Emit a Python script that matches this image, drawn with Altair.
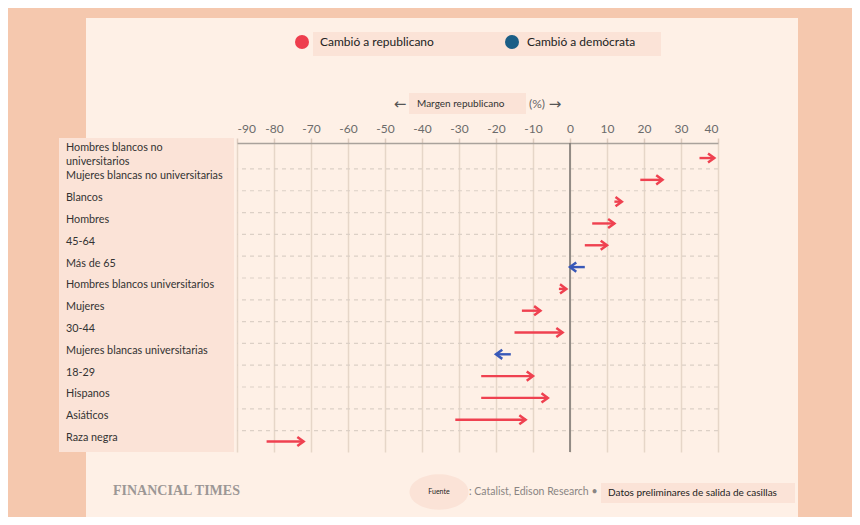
import altair as alt
import pandas as pd

# ---- data ----
groups = [
    "Hombres blancos no universitarios",
    "Mujeres blancas no universitarias",
    "Blancos",
    "Hombres",
    "45-64",
    "Más de 65",
    "Hombres blancos universitarios",
    "Mujeres",
    "30-44",
    "Mujeres blancas universitarias",
    "18-29",
    "Hispanos",
    "Asiáticos",
    "Raza negra",
]
margin_from = [35, 19, 12, 6, 4, 4, -3, -13, -15, -16, -24, -24, -31, -82]
margin_to = [39, 25, 14, 12, 10, 0, -1, -8, -2, -20, -10, -6, -12, -72]
x_ticks = [-90, -80, -70, -60, -50, -40, -30, -20, -10, 0, 10, 20, 30, 40]

wrap = {"Hombres blancos no universitarios": "Hombres blancos no\nuniversitarios"}

df = pd.DataFrame({
    "group": groups,
    "idx": list(range(len(groups))),
    "from": margin_from,
    "to": margin_to,
})
df["display"] = [wrap.get(g, g) for g in groups]
df["wrapped"] = [g in wrap for g in groups]
bounds = pd.DataFrame({"b": [i + 0.5 for i in range(len(groups) - 1)]})
one = pd.DataFrame({"a": [0]})

RED = "#EF4150"
BLUE = "#3858B8"
PEACH = "#F5C8AE"
CREAM = "#FEF0E6"
BOX = "#FBE3D7"
FONT = "Lato"

xscale = alt.Scale(domain=[-90, 40], nice=False, zero=False)
yscale = alt.Scale(domain=[-0.69, 13.48], reverse=True, nice=False, zero=False)
xaxis = alt.Axis(
    orient="top", values=x_ticks, grid=True, gridColor="#E6D6C8", gridWidth=1.5,
    domainColor="#A9A29C", domainWidth=1.5, tickColor="#DCCBBD", tickWidth=1.5,
    tickSize=5, labelPadding=3, labelFont=FONT, labelFontSize=12,
    labelColor="#6B6B6B", title=None, labelExpr="'' + datum.value",
)

base = alt.Chart(df)

def prect(x1, x2, y1, y2, color):
    return alt.Chart(one).mark_rect(color=color).encode(
        x=alt.value(x1), x2=alt.value(x2), y=alt.value(y1), y2=alt.value(y2)
    )

# peach borders around the cream panel
borders = [
    prect(-229, -151, -135, 374, PEACH),
    prect(561, 615, -135, 374, PEACH),
    prect(-229, 615, -135, -125, PEACH),
]

label_box = prect(-178, -3, -5, 309, BOX)

dashed = alt.Chart(bounds).mark_rule(strokeDash=[4, 4], color="#DCD0C6", strokeWidth=1.2).encode(
    y=alt.Y("b:Q", scale=yscale, axis=None)
)

zero = alt.Chart(one).mark_rule(color="#7D7874", strokeWidth=1.6).encode(
    x=alt.X(datum=0, scale=xscale, axis=xaxis)
)

color_enc = alt.Color(
    "dir:N", scale=alt.Scale(domain=["rep", "dem"], range=[RED, BLUE]), legend=None
)

shafts = base.transform_calculate(
    dir="datum.to > datum.from ? 'rep' : 'dem'"
).mark_rule(strokeWidth=2.4).encode(
    x=alt.X("from:Q", scale=xscale, axis=xaxis),
    x2="to:Q",
    y=alt.Y("idx:Q", scale=yscale, axis=None),
    color=color_enc,
)

heads = base.transform_calculate(
    dir="datum.to > datum.from ? 'rep' : 'dem'",
    ang="datum.to > datum.from ? 0 : 180",
).mark_point(
    shape="M-1.1,-0.8L0,0L-1.1,0.8", filled=False, strokeWidth=2.5, size=130, opacity=1
).encode(
    x=alt.X("to:Q", scale=xscale, axis=xaxis),
    y=alt.Y("idx:Q", scale=yscale, axis=None),
    color=color_enc,
    angle=alt.Angle("ang:Q", scale=None),
)

def label_layer(wrapped, dy):
    return base.transform_filter(
        alt.datum.wrapped == wrapped
    ).mark_text(
        align="left", baseline="middle", font=FONT, fontSize=10.8, color="#333333",
        lineBreak="\n", lineHeight=14, dy=dy,
    ).encode(
        x=alt.value(-171),
        y=alt.Y("idx:Q", scale=yscale, axis=None),
        text="display:N",
    )

labels_single = label_layer(False, -3.5)
labels_wrapped = label_layer(True, -10)

def txt(s, x, y, size, color="#222222", align="left", font=FONT, weight="normal"):
    return alt.Chart(one).mark_text(
        align=align, baseline="middle", font=font, fontSize=size, color=color,
        fontWeight=weight,
    ).encode(x=alt.value(x), y=alt.value(y), text=alt.value(s))

def dot(x, y, color, size=196, shape="circle"):
    return alt.Chart(one).mark_point(
        shape=shape, filled=True, color=color, size=size, opacity=1
    ).encode(x=alt.value(x), y=alt.value(y))

legend = [
    prect(76, 424, -111, -87, BOX),
    dot(65, -101, "#EE3E4E"),
    txt("Cambió a republicano", 83, -101, 12),
    dot(275, -101, "#1B5E86"),
    txt("Cambió a demócrata", 290, -101, 12),
]

axis_title = [
    txt("←", 163, -39, 15, color="#555555", align="center", font="DejaVu Sans"),
    prect(172, 289, -50, -29, BOX),
    txt("Margen republicano", 180, -39, 10, color="#333333"),
    txt("(%)", 292, -39, 12, color="#666666"),
    txt("→", 318, -39, 15, color="#555555", align="center", font="DejaVu Sans"),
]

footer = [
    txt("FINANCIAL TIMES", -124, 348, 14, color="#9C9795", font="Liberation Serif", weight="bold"),
    dot(202, 349, BOX, size=3481, shape="M-1,0A1,0.6 0 1,0 1,0A1,0.6 0 1,0 -1,0Z"),
    txt("Fuente", 202, 349, 7, align="center"),
    txt(": Catalist, Edison Research •", 232, 349, 10.5, color="#8A8583"),
    prect(364, 558, 340, 360, BOX),
    txt("Datos preliminares de salida de casillas", 371, 350, 10, color="#222222"),
]

chart = alt.layer(
    *borders, label_box, dashed, zero, shafts, heads, labels_single, labels_wrapped,
    *legend, *axis_title, *footer,
).properties(
    width=481, height=309,
    padding={"left": 229, "top": 135, "right": 134, "bottom": 65},
    autosize=alt.AutoSizeParams(type="none"),
    background=CREAM,
).configure_view(stroke=None)

chart.save("out.html", embed_options={"renderer": "svg", "actions": False})
